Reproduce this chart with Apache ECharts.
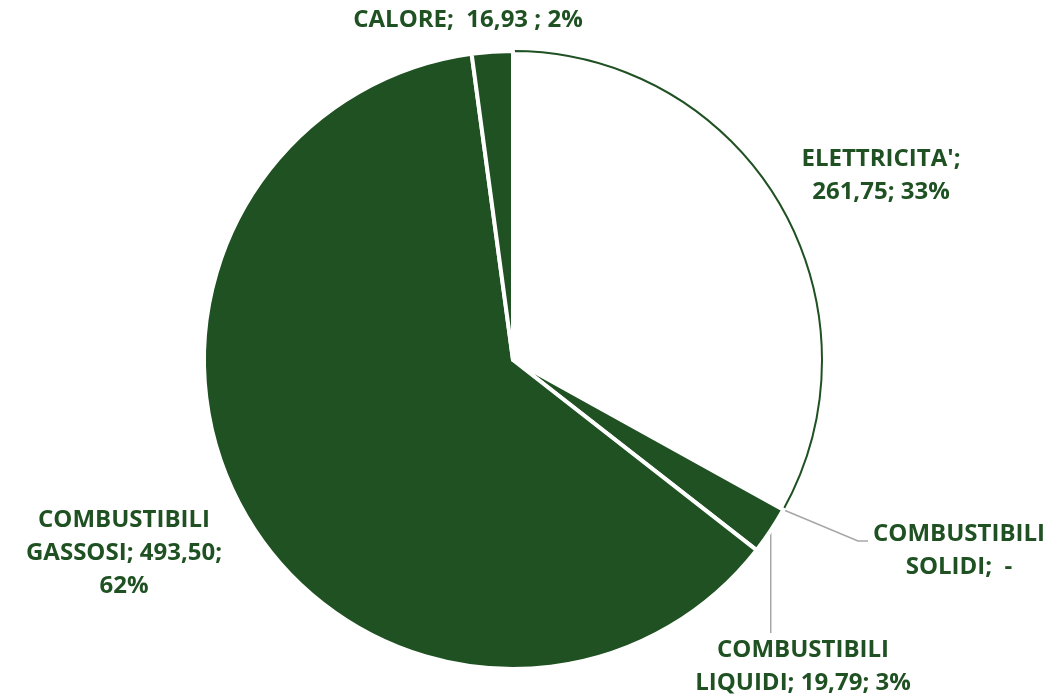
<!DOCTYPE html>
<html>
<head>
<meta charset="utf-8">
<script src="https://cdn.jsdelivr.net/npm/echarts@6/dist/echarts.min.js"></script>
<style>
  html, body { margin: 0; padding: 0; background: #ffffff; }
  #chart { width: 1064px; height: 698px; }
</style>
</head>
<body>
<div id="chart"></div>
<script>
// Energy consumption by source
const categories = ["ELETTRICITA'", 'COMBUSTIBILI SOLIDI', 'COMBUSTIBILI LIQUIDI', 'COMBUSTIBILI GASSOSI', 'CALORE'];
const values = [261.75, 0, 19.79, 493.50, 16.93];
const shareLabels = ['33%', '', '3%', '62%', '2%'];

const GREEN = '#1f5122';
const LEADER = '#a6a6a6';

// Italian number format; zero shown as a dash
function fmt(v) {
  return v === 0 ? '-' : v.toFixed(2).replace('.', ',');
}

// Line-break pattern for each label
const labelBuilders = [
  (w, n, v, p) => `${n};\n${v}; ${p}`,
  (w, n, v, p) => `${w[0]}\n${w[1]};  ${v}`,
  (w, n, v, p) => `${w[0]}\n${w[1]}; ${v}; ${p}`,
  (w, n, v, p) => `${w[0]}\n${w[1]}; ${v};\n${p}`,
  (w, n, v, p) => `${n};  ${v} ; ${p}`
];

// Label anchor points (centre of each text block)
const labelAnchors = [
  [881, 176],
  [959, 551],
  [803, 667],
  [124, 553],
  [468, 20]
];

const seriesData = categories.map((name, i) => {
  const isWhite = i === 0;
  return {
    name: name,
    value: values[i],
    itemStyle: isWhite
      ? { color: '#ffffff', borderColor: GREEN, borderWidth: 2 }
      : { color: GREEN, borderColor: '#ffffff', borderWidth: 4 },
    labelLine: { show: i === 1 || i === 2 }
  };
});

const chart = echarts.init(document.getElementById('chart'), null, { renderer: 'canvas' });

chart.setOption({
  animation: false,
  backgroundColor: '#ffffff',
  series: [{
    type: 'pie',
    center: [513, 360],
    radius: 309,
    startAngle: 90,
    clockwise: true,
    avoidLabelOverlap: false,
    emphasis: { disabled: true },
    data: seriesData,
    label: {
      show: true,
      position: 'outside',
      color: GREEN,
      fontFamily: '"Open Sans"',
      fontWeight: 'bold',
      fontSize: 24,
      lineHeight: 33,
      align: 'center',
      formatter: (p) => {
        const i = p.dataIndex;
        const n = categories[i];
        return labelBuilders[i](n.split(' '), n, fmt(values[i]), shareLabels[i]);
      }
    },
    labelLine: {
      lineStyle: { color: LEADER, width: 1.5 },
      length: 20,
      length2: 10
    },
    labelLayout: (params) => {
      const i = params.dataIndex;
      const out = {
        x: labelAnchors[i][0],
        y: labelAnchors[i][1],
        align: 'center',
        verticalAlign: 'middle'
      };
      const pts = params.labelLinePoints;
      if (pts && pts.length) {
        const p0 = pts[0];
        if (i === 1) {
          out.labelLinePoints = [p0, [858, 541], [868, 541]];
        } else if (i === 2) {
          out.labelLinePoints = [p0, [p0[0], 600], [p0[0], 633]];
        }
      }
      return out;
    }
  }]
});
</script>
</body>
</html>
